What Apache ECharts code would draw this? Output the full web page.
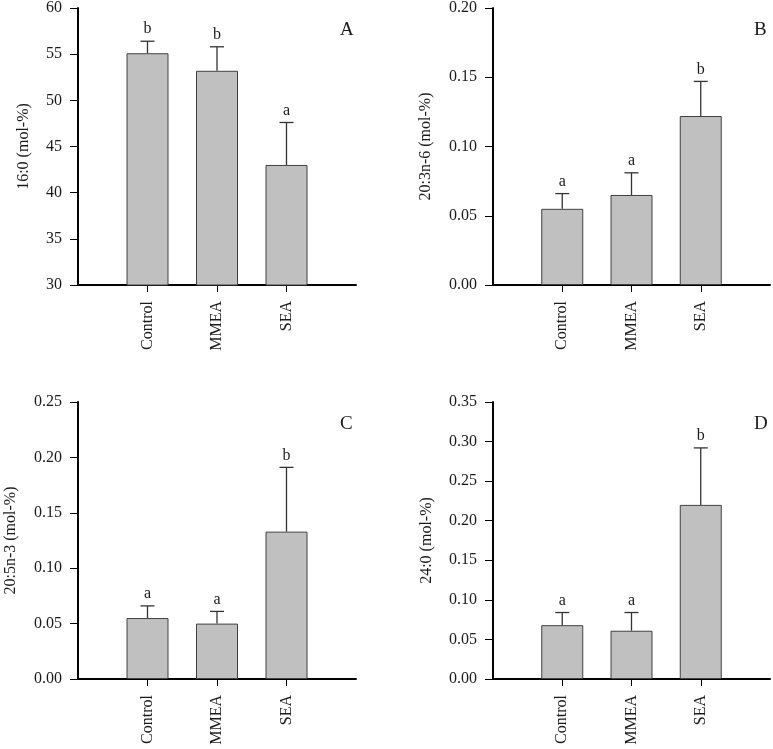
<!DOCTYPE html>
<html>
<head>
<meta charset="utf-8">
<script src="https://cdn.jsdelivr.net/npm/echarts@6/dist/echarts.min.js"></script>
<style>
html,body{margin:0;padding:0;background:#fff;}
#chart{width:773px;height:749px;}
</style>
</head>
<body>
<div id="chart"></div>
<script>
// ---- data ----
var categories = ['Control', 'MMEA', 'SEA'];
var panelLetters = ['A', 'B', 'C', 'D'];
var yNames = ['16:0 (mol-%)', '20:3n-6 (mol-%)', '20:5n-3 (mol-%)', '24:0 (mol-%)'];
var meansA = [55.1, 53.2, 43.0];
var errA = [1.3, 2.6, 4.6];
var sigA = ['b', 'b', 'a'];
var meansB = [0.055, 0.065, 0.122];
var errB = [0.011, 0.016, 0.025];
var sigB = ['a', 'a', 'b'];
var meansC = [0.055, 0.050, 0.133];
var errC = [0.011, 0.011, 0.058];
var sigC = ['a', 'a', 'b'];
var meansD = [0.068, 0.061, 0.220];
var errD = [0.016, 0.023, 0.072];
var sigD = ['a', 'a', 'b'];
var yMin = [30, 0, 0, 0];
var yMax = [60, 0.20, 0.25, 0.35];
var yStep = [5, 0.05, 0.05, 0.05];
var yDecimals = [0, 2, 2, 2];

var means = [meansA, meansB, meansC, meansD];
var errs = [errA, errB, errC, errD];
var sigs = [sigA, sigB, sigC, sigD];

// ---- layout ----
var FONT = '"Liberation Serif", "Times New Roman", serif';
var TXT = '#1a1a1a';
var grids = [
  {left: 78, top: 8, width: 278, height: 277},
  {left: 493, top: 8, width: 277, height: 277},
  {left: 78, top: 402, width: 278, height: 277},
  {left: 493, top: 402, width: 277, height: 277}
];
var nameGaps = [46, 59, 59, 58];
var xCats = ['', 'Control', 'MMEA', 'SEA', ' '];

var option = {
  animation: false,
  backgroundColor: '#fff',
  grid: grids.map(function (g) { return Object.assign({containLabel: false}, g); }),
  xAxis: [], yAxis: [], series: [], graphic: []
};

for (var p = 0; p < 4; p++) {
  option.xAxis.push({
    type: 'category', gridIndex: p, data: xCats, boundaryGap: false,
    axisLine: {lineStyle: {color: '#000', width: 2}},
    axisTick: {length: 7, lineStyle: {color: '#000', width: 1},
      interval: function (i) { return i >= 1 && i <= 3; }},
    axisLabel: {rotate: 90, margin: 16, fontFamily: FONT, fontSize: 16, color: TXT,
      interval: function (i) { return i >= 1 && i <= 3; }},
    splitLine: {show: false}
  });
  option.yAxis.push({
    type: 'value', gridIndex: p, min: yMin[p], max: yMax[p], interval: yStep[p],
    name: yNames[p], nameLocation: 'middle', nameGap: nameGaps[p], nameRotate: 90,
    nameTextStyle: {fontFamily: FONT, fontSize: 16, color: TXT},
    axisLine: {show: true, lineStyle: {color: '#000', width: 2}},
    axisTick: {show: true, length: 8, lineStyle: {color: '#000', width: 1}},
    axisLabel: {fontFamily: FONT, fontSize: 16, color: TXT, margin: 16,
      formatter: (function (d) { return function (v) { return v.toFixed(d); }; })(yDecimals[p])},
    splitLine: {show: false}
  });
  var barData = ['-'].concat(means[p]).concat(['-']);
  option.series.push({
    type: 'bar', xAxisIndex: p, yAxisIndex: p, data: barData, barWidth: 42,
    clip: true,
    itemStyle: {color: '#c0c0c0', borderColor: '#404040', borderWidth: 1}
  });
  var ebData = means[p].map(function (m, i) { return [i + 1, m, m + errs[p][i], i]; });
  option.series.push({
    type: 'custom', xAxisIndex: p, yAxisIndex: p, data: ebData, z: 5,
    renderItem: (function (pp) {
      return function (params, api) {
        var lo = api.coord([api.value(0), api.value(1)]);
        var hi = api.coord([api.value(0), api.value(2)]);
        var letter = sigs[pp][api.value(3)];
        return {
          type: 'group',
          children: [
            {type: 'line', shape: {x1: lo[0], y1: lo[1], x2: hi[0], y2: hi[1]},
              style: {stroke: '#333', lineWidth: 1.3}},
            {type: 'line', shape: {x1: hi[0] - 7, y1: hi[1], x2: hi[0] + 7, y2: hi[1]},
              style: {stroke: '#333', lineWidth: 1.3}},
            {type: 'text', x: hi[0], y: hi[1] - 4,
              style: {text: letter, fontFamily: FONT, fontSize: 16, fill: TXT,
                textAlign: 'center', textVerticalAlign: 'bottom'}}
          ]
        };
      };
    })(p)
  });
  var g = grids[p];
  option.graphic.push({
    type: 'text', left: g.left + g.width - 16, top: g.top + 13,
    style: {text: panelLetters[p], fontFamily: FONT, fontSize: 19, fill: TXT}
  });
}

var chart = echarts.init(document.getElementById('chart'), null, {renderer: 'canvas'});
chart.setOption(option);
</script>
</body>
</html>
